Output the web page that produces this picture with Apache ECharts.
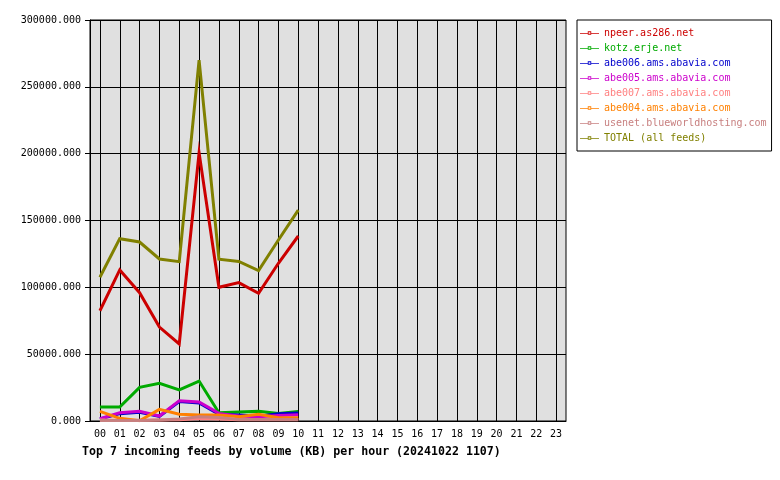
<!DOCTYPE html>
<html>
<head>
<meta charset="utf-8">
<script src="https://cdn.jsdelivr.net/npm/echarts@6/dist/echarts.min.js"></script>
<style>html,body{margin:0;padding:0;background:#fff}#c{width:780px;height:480px}</style>
</head>
<body>
<div id="c"></div>
<script>
const hours = ['00','01','02','03','04','05','06','07','08','09','10','11','12','13','14','15','16','17','18','19','20','21','22','23'];
const seriesNames = ['npeer.as286.net','kotz.erje.net','abe006.ams.abavia.com','abe005.ams.abavia.com','abe007.ams.abavia.com','abe004.ams.abavia.com','usenet.blueworldhosting.com','TOTAL (all feeds)'];
const seriesColors = ['#cc0000','#00aa00','#0000cc','#cc00cc','#ff8080','#ff8000','#c88080','#808000'];
const npeer  = [82500,113000,96000,70300,57600,200700,100000,103500,95500,118000,138400];
const kotz   = [10500,10500,25200,28200,23200,29900,6200,6700,7200,5700,7200];
const abe006 = [1500,5500,6500,3500,14500,13500,5000,4500,3500,5500,6000];
const abe005 = [1700,6200,7200,3700,15200,14200,5700,3700,3200,4200,4700];
const abe007 = [800,600,500,700,900,1800,1500,1000,1200,900,1000];
const abe004 = [7200,2000,200,8700,5000,4500,4500,3200,5000,2500,2500];
const usenet = [300,300,300,800,1500,3200,2700,1200,1200,1200,1200];
const total  = [107500,136400,133900,121200,119200,270000,121000,119400,112500,135400,157800];
const yTicks = {min:0, max:300000, interval:50000};
const title = 'Top 7 incoming feeds by volume (KB) per hour (20241022 1107)';

const allData = [npeer,kotz,abe006,abe005,abe007,abe004,usenet,total];
const FONT = '"DejaVu Sans Mono", monospace';
const iconPath = 'path://M0,3H9V4H0Z M13,3H22V4H13Z M9,1H13V5H9Z M10,2V4H12V2Z';

const chart = echarts.init(document.getElementById('c'), null, {renderer:'canvas'});
chart.setOption({
  animation:false,
  backgroundColor:'#fff',
  textStyle:{fontFamily:FONT},
  title:{text:title,left:82,top:446,padding:0,textStyle:{fontFamily:FONT,fontSize:11.6,fontWeight:'bold',color:'#000'}},
  grid:{left:90,right:214,top:20,bottom:59,show:true,backgroundColor:'#e0e0e0',borderColor:'#000',borderWidth:1},
  legend:{
    orient:'vertical',left:577,top:20,padding:[7,5,7,3],
    backgroundColor:'#fff',borderColor:'#000',borderWidth:1,
    itemWidth:19,itemHeight:6,itemGap:3,align:'left',
    icon:iconPath,
    textStyle:{fontFamily:FONT,fontSize:10,lineHeight:12},
    data:seriesNames.map((n,i)=>({name:n,textStyle:{color:seriesColors[i]}}))
  },
  xAxis:{
    type:'category',data:hours,boundaryGap:true,
    axisLine:{lineStyle:{color:'#000'}},
    axisTick:{alignWithLabel:true,length:4,lineStyle:{color:'#000'}},
    axisLabel:{color:'#000',fontFamily:FONT,fontSize:10,margin:8,interval:0},
    splitLine:{show:true,alignWithLabel:true,lineStyle:{color:'#000',width:1}}
  },
  yAxis:{
    type:'value',min:yTicks.min,max:yTicks.max,interval:yTicks.interval,
    axisLine:{show:true,lineStyle:{color:'#000'}},
    axisTick:{show:true,length:5,lineStyle:{color:'#000'}},
    axisLabel:{color:'#000',fontFamily:FONT,fontSize:10,margin:9,formatter:v=>v.toFixed(3)},
    splitLine:{show:true,lineStyle:{color:'#000',width:1}}
  },
  series:seriesNames.map((n,i)=>({
    name:n,type:'line',data:allData[i],showSymbol:false,symbol:'none',
    color:seriesColors[i],
    lineStyle:{width:3,color:seriesColors[i],join:'miter'}
  }))
});
</script>
</body>
</html>
